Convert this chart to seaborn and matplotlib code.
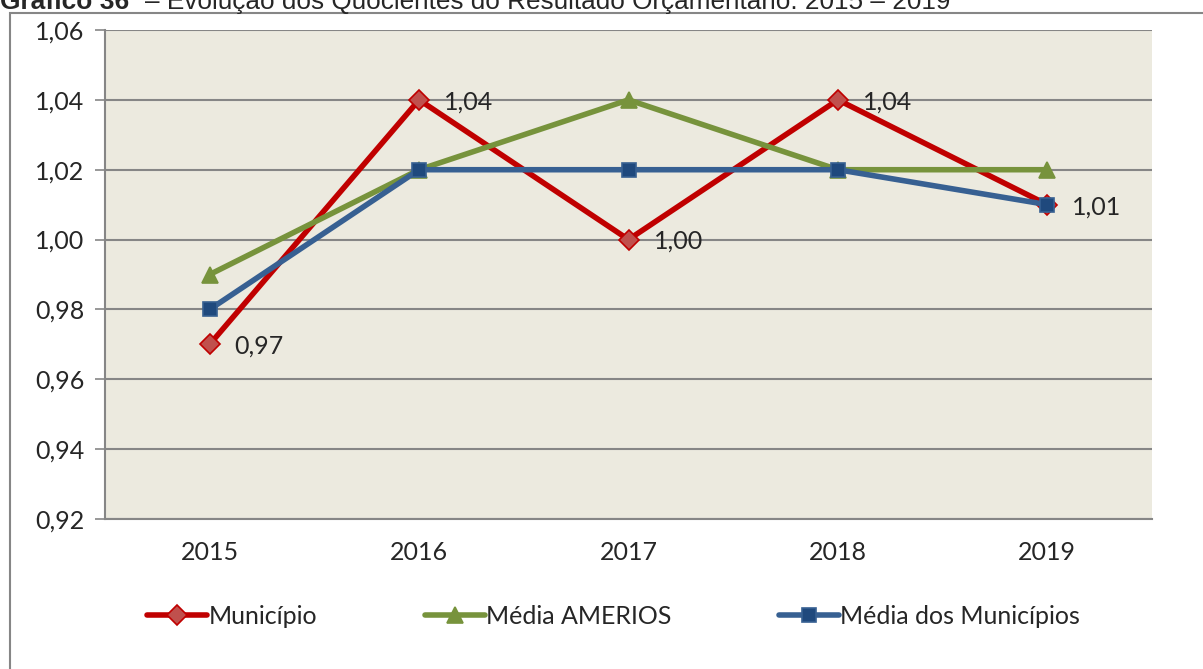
import pandas as pd
import seaborn as sns
import matplotlib.pyplot as plt
from matplotlib.patches import Rectangle

anos = ['2015', '2016', '2017', '2018', '2019']
municipio = [0.97, 1.04, 1.00, 1.04, 1.01]
media_amerios = [0.99, 1.02, 1.04, 1.02, 1.02]
media_municipios = [0.98, 1.02, 1.02, 1.02, 1.01]
yticks = [0.92, 0.94, 0.96, 0.98, 1.00, 1.02, 1.04, 1.06]

sns.set_style('white')
plt.rcParams['font.family'] = ['Lato', 'DejaVu Sans']
FS = 18

fig = plt.figure(figsize=(12.03, 6.69), dpi=100)
ax = fig.add_axes([105/1203, 1-519/669, (1152-105)/1203, (519-30)/669])
ax.set_facecolor('#ECEADF')

series = [
    ('Município', municipio, '#C00000', 'D', '#C0504D', 10),
    ('Média AMERIOS', media_amerios, '#77933C', '^', '#77933C', 11),
    ('Média dos Municípios', media_municipios, '#376092', 's', '#1F497D', 10),
]
for nome, vals, cor, mk, fc, ms in series:
    d = pd.DataFrame({'ano': anos, 'valor': vals})
    sns.lineplot(data=d, x='ano', y='valor', ax=ax, color=cor, lw=4,
                 marker=mk, markersize=ms, markerfacecolor=fc,
                 markeredgecolor=cor, markeredgewidth=1.2, label=nome)

# rotulos do municipio
for i, v in enumerate(municipio):
    ax.annotate(f'{v:.2f}'.replace('.', ','), (i, v), xytext=(25, -2),
                textcoords='offset pixels', va='center', ha='left', fontsize=FS)

ax.set_xlim(-0.5, 4.5)
ax.set_ylim(0.92, 1.06)
ax.set_yticks(yticks)
ax.set_yticklabels([f'{t:.2f}'.replace('.', ',') for t in yticks], fontsize=FS)
ax.tick_params(axis='x', labelsize=FS, length=0, pad=16)
ax.tick_params(axis='y', length=7, width=1.2, color='#868686', left=True, pad=8)
ax.grid(axis='y', color='#868686', lw=1.5)
ax.set_axisbelow(True)
ax.set_xlabel('')
ax.set_ylabel('')
for s in ['top', 'right']:
    ax.spines[s].set_visible(False)
for s in ['left', 'bottom']:
    ax.spines[s].set_color('#868686')
    ax.spines[s].set_linewidth(1.5)

leg = ax.legend(loc='center', bbox_to_anchor=(0.5 - 15/1047, 1 - (616 - 30) / (519 - 30)), ncol=3,
                frameon=False, fontsize=FS, handlelength=2.4, handletextpad=0.05,
                columnspacing=4.3)

fig.patches.append(Rectangle((10/1203, -0.1), 1.2, 1.1 - 13/669, transform=fig.transFigure,
                             fill=False, edgecolor='#868686', lw=1.5))
# titulo cortado no topo, como no original
fig.text(0.0, 1 - 9/669, 'Gráfico 36', fontsize=19, va='baseline', ha='left',
         fontweight='bold', family=['Liberation Sans', 'DejaVu Sans'])
fig.text(145/1203, 1 - 9/669, '– Evolução dos Quocientes do Resultado Orçamentário: 2015 – 2019',
         fontsize=18.8, va='baseline', ha='left', family=['Liberation Sans', 'DejaVu Sans'])

fig.savefig('out.png', dpi=100)
